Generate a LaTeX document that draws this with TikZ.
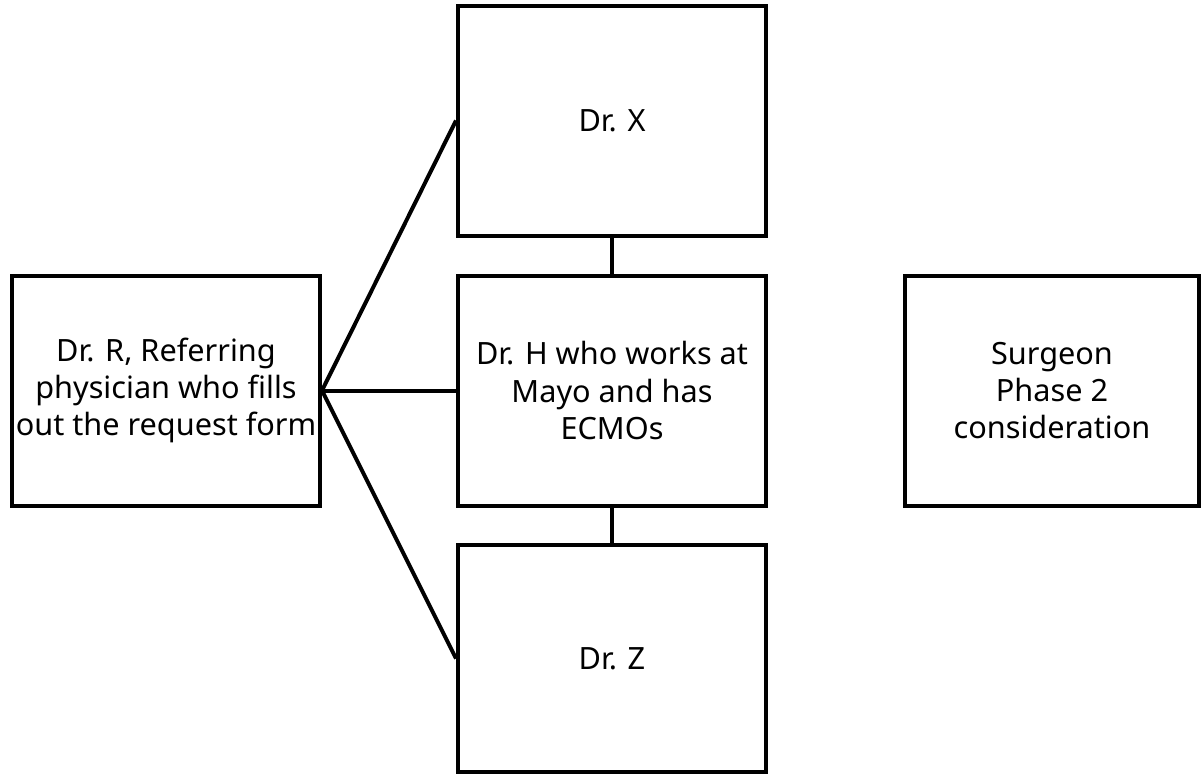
\documentclass[tikz,border=0pt]{standalone}
\usepackage{fontspec}
\setmainfont{Noto Sans}
\usepackage{tikz}

\tikzset{
  person/.style={draw, line width=3pt, minimum width=231pt, minimum height=172.5pt,
    inner sep=0pt, align=center, font=\fontsize{23}{28}\selectfont},
  link/.style={line width=3pt}
}

\begin{document}
\begin{tikzpicture}[x=0.75pt,y=-0.75pt]
  \useasboundingbox (0,0) rectangle (1202,775);
  % boxes
  \node[person] (refer) at (166,390.5) {Dr. R, Referring\\physician who fills\\out the request form};
  \node[person] (drx) at (612,120.5) {Dr. X};
  \node[person] (drh) at (612,390.5) {Dr. H who works at\\Mayo and has\\ECMOs};
  \node[person, minimum height=170pt] (drz) at (612,658.5) {Dr. Z};
  \node[person, minimum width=221pt] (surgeon) at (1052,390.5) {Surgeon\\Phase 2\\consideration};
  % links from the referring physician
  \draw[link] (refer.east) -- (drx.west);
  \draw[link] (refer.east) -- (drh.west);
  \draw[link] (refer.east) -- (drz.west);
  % vertical links
  \draw[link] (drx.south) -- (drh.north);
  \draw[link] (drh.south) -- (drz.north);
\end{tikzpicture}
\end{document}
